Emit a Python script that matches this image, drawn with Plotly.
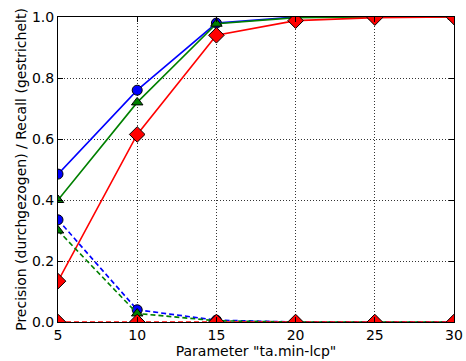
import plotly.graph_objects as go

# Parameter values and per-configuration precision / recall
x_vals = [5, 10, 15, 20, 25, 30]

prec_blue = [0.485, 0.76, 0.98, 1.0, 1.0, 1.0]
prec_green = [0.40, 0.72, 0.978, 0.998, 1.0, 1.0]
prec_red = [0.134, 0.615, 0.94, 0.988, 0.998, 1.0]

rec_blue = [0.335, 0.04, 0.006, 0.0, 0.0, 0.0]
rec_green = [0.30, 0.028, 0.004, 0.0, 0.0, 0.0]
rec_red = [0.0, 0.0, 0.0, 0.0, 0.0, 0.0]

x_ticks = [5, 10, 15, 20, 25, 30]
y_ticks = [0.0, 0.2, 0.4, 0.6, 0.8, 1.0]

colors = {"blue": "#0000ff", "green": "#008000", "red": "#ff0000"}
symbols = {"blue": "circle", "green": "triangle-up", "red": "diamond"}
sizes = {"blue": 10, "green": 10, "red": 12}

fig = go.Figure()

series = [
    ("blue", prec_blue, "solid"),
    ("green", prec_green, "solid"),
    ("red", prec_red, "solid"),
    ("blue", rec_blue, "dash"),
    ("green", rec_green, "dash"),
    ("red", rec_red, "dash"),
]

for name, ys, dash in series:
    fig.add_trace(go.Scatter(
        x=x_vals, y=ys, mode="lines+markers",
        line=dict(color=colors[name], width=1.6,
                  dash="5px,3px" if dash == "dash" else "solid"),
        marker=dict(symbol=symbols[name], size=sizes[name], color=colors[name],
                    line=dict(color="black", width=1)),
        cliponaxis=True, showlegend=False,
    ))

label_font = dict(family="DejaVu Sans", size=14, color="black")

axis_common = dict(
    showgrid=True, gridcolor="#333333", griddash="1px,2px", gridwidth=1,
    showline=True, linecolor="black", linewidth=1, mirror="ticks",
    ticks="inside", ticklen=5, tickcolor="black",
    zeroline=False, automargin=False,
    tickfont=label_font,
)

fig.update_xaxes(
    range=[5, 30], tickvals=x_ticks, ticktext=[str(v) for v in x_ticks],
    title=dict(text='Parameter "ta.min-lcp"', standoff=0, font=label_font),
    **axis_common,
)
fig.update_yaxes(
    range=[0, 1], tickvals=y_ticks, ticktext=[f"{v:.1f}" for v in y_ticks],
    title=dict(text="Precision (durchgezogen) / Recall (gestrichelt)", standoff=2,
               font=label_font),
    **axis_common,
)

fig.update_layout(
    width=466, height=361,
    margin=dict(l=58, r=12, t=17, b=39),
    plot_bgcolor="white", paper_bgcolor="white",
)

fig.write_html("out.html")
